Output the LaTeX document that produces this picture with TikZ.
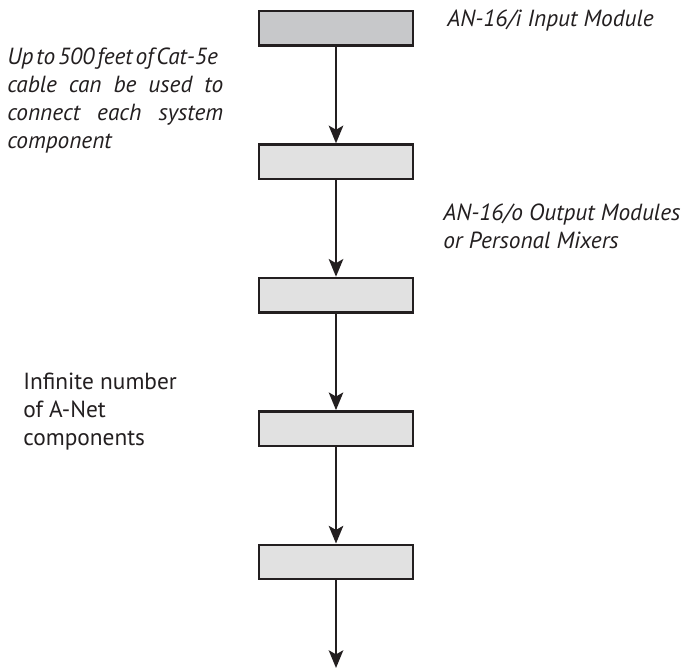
\documentclass[tikz,border=0pt]{standalone}
\usepackage{fontspec}
\setmainfont{PT Sans}
\usepackage{xcolor}
\definecolor{LineDark}{HTML}{231F20}
\definecolor{InputGray}{HTML}{C7C8CA}
\definecolor{ModuleGray}{HTML}{E1E1E1}
\usetikzlibrary{arrows.meta, positioning}

\begin{document}
\begin{tikzpicture}[
  % Grundstile
  modbox/.style={
    draw=LineDark,
    fill=#1,
    line width=1.8pt,
    minimum width=3.86cm,
    minimum height=0.86cm,
    inner sep=0pt
  },
  modbox/.default=ModuleGray,
  note/.style={
    font=\fontsize{16.6}{19.9}\selectfont,
    text=LineDark,
    inner sep=0pt
  },
  inote/.style={
    note,
    font=\fontsize{16.6}{19.9}\selectfont\itshape
  },
  cablearrow/.style={
    draw=LineDark,
    line width=1.8pt,
    -{Stealth[length=0.44cm, width=0.36cm, inset=0.1cm]}
  }
]

% =============================================================================
% HINTERGRUND
% =============================================================================
\useasboundingbox[fill=white] (0,0) rectangle (17.15,16.75);

% =============================================================================
% KETTE DER MODULE
% =============================================================================
\node[modbox=InputGray] (mod0) at (8.4,16.04) {};
\foreach \i in {1,...,4} {
  \node[modbox] (mod\i) at (8.4,16.04-3.335*\i) {};
}
\coordinate (tail) at (8.4,0.05);

% Verbindungen
\foreach \i in {0,...,3} {
  \pgfmathtruncatemacro{\j}{\i+1}
  \draw[cablearrow] (mod\i.south) -- (mod\j.north);
}
\draw[cablearrow] (mod4.south) -- (tail);

% =============================================================================
% BESCHRIFTUNGEN
% =============================================================================
\node[inote, anchor=base west] (lblin) at (11.175,16.075) {AN-16/i Input Module};

\node[inote, anchor=north west, text width=5.4cm, align=justify] (lblcable) at (0.175,15.56) {
  \spaceskip=0.12em minus 0.05em
  Up to 500 feet of Cat-5e\linebreak
  \spaceskip=0pt
  cable can be used to\linebreak
  connect each system\linebreak
  component};

\node[inote, anchor=north west, align=left] (lblout) at (11.075,11.66) {AN-16/o Output Modules\\or Personal Mixers};

\node[note, anchor=north west, align=left] (lblinf) at (0.575,7.43) {Infinite number\\of A-Net\\components};

\end{tikzpicture}
\end{document}
